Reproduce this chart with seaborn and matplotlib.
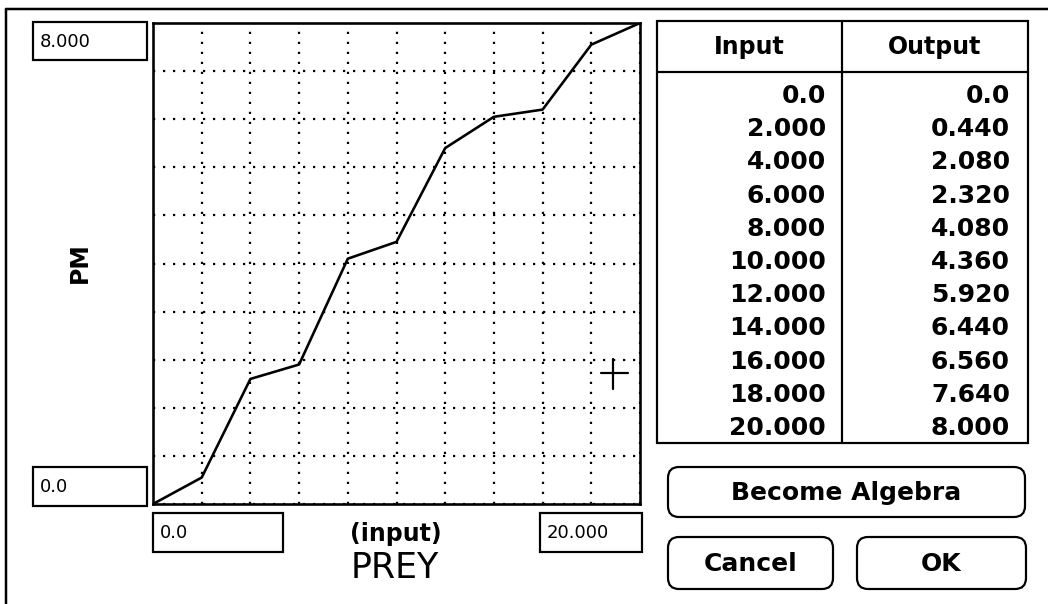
import matplotlib
matplotlib.use("Agg")
import matplotlib.pyplot as plt
import seaborn as sns
from matplotlib.patches import Rectangle, FancyBboxPatch

# graphical function PM = f(PREY)
inputs = [0, 2, 4, 6, 8, 10, 12, 14, 16, 18, 20]
outputs = [0.0, 0.44, 2.08, 2.32, 4.08, 4.36, 5.92, 6.44, 6.56, 7.64, 8.0]
x_name = "PREY"
y_name = "PM"
buttons = ["Become Algebra", "Cancel", "OK"]


def fmt(v):
    # Stella style: zero shows as 0.0, the rest with three decimals
    return "0.0" if v == 0 else f"{v:.3f}"


sns.set_style("white")
plt.rcParams["font.family"] = ["DejaVu Sans"]
plt.rcParams["text.color"] = "black"
plt.rcParams["lines.scale_dashes"] = False

W, H = 1048, 604
fig = plt.figure(figsize=(W / 100, H / 100), dpi=100)

# overlay in pixel units for the dialog parts
ui = fig.add_axes([0, 0, 1, 1], zorder=0)
ui.set_xlim(0, W)
ui.set_ylim(H, 0)
ui.axis("off")

px = 0.72  # points per pixel

# dialog frame
ui.plot([6, W], [9, 9], color="black", lw=2.5 * px)
ui.plot([6, 6], [9, H], color="black", lw=2.5 * px)


def box(x0, y0, x1, y1, text, size=13, weight="normal"):
    ui.add_patch(Rectangle((x0, y0), x1 - x0, y1 - y0, fill=False, ec="black", lw=2.2 * px))
    ui.text(x0 + 7, (y0 + y1) / 2 + 1, text, ha="left", va="center", fontsize=size, fontweight=weight)


# range boxes
box(33, 22, 147, 60, fmt(max(outputs)))
box(33, 467, 147, 506, fmt(min(outputs)))
box(153, 513, 283, 552, fmt(min(inputs)))
box(540, 513, 642, 552, fmt(max(inputs)))

ui.text(80, 263, y_name, rotation=90, ha="center", va="center", fontsize=17, fontweight="bold")
ui.text(396, 534, "(input)", ha="center", va="center", fontsize=17, fontweight="bold")
ui.text(395, 568, x_name, ha="center", va="center", fontsize=25)

# table
tx0, tx1, tdiv, ty0, thead, ty1 = 657, 1028, 842, 21, 72, 443
ui.add_patch(Rectangle((tx0, ty0), tx1 - tx0, ty1 - ty0, fill=False, ec="black", lw=2.2 * px))
ui.plot([tx0, tx1], [thead, thead], color="black", lw=2.2 * px)
ui.plot([tdiv, tdiv], [ty0, ty1], color="black", lw=2.2 * px)
ui.text((tx0 + tdiv) / 2, 47, "Input", ha="center", va="center", fontsize=17, fontweight="bold")
ui.text((tdiv + tx1) / 2, 47, "Output", ha="center", va="center", fontsize=17, fontweight="bold")
for i, (a, b) in enumerate(zip(inputs, outputs)):
    y = 96 + 33.2 * i
    ui.text(826, y, fmt(a), ha="right", va="center", fontsize=18, fontweight="bold")
    ui.text(1010, y, fmt(b), ha="right", va="center", fontsize=18, fontweight="bold")

# buttons
for (x0, y0, x1, y1), label in zip([(668, 467, 1025, 517), (668, 537, 833, 589), (857, 537, 1026, 589)], buttons):
    ui.add_patch(FancyBboxPatch((x0, y0), x1 - x0, y1 - y0, boxstyle="round,pad=0,rounding_size=11",
                                fill=False, ec="black", lw=2.2 * px))
    ui.text((x0 + x1) / 2, (y0 + y1) / 2 + 1, label, ha="center", va="center", fontsize=18, fontweight="bold")

# mouse cursor
ui.plot([601, 628], [373, 373], color="black", lw=2.2 * px)
ui.plot([613, 613], [359, 389], color="black", lw=2.2 * px)

# the graph itself
ax = fig.add_axes([153 / W, 1 - 504 / H, (640 - 153) / W, (504 - 23) / H], zorder=1)
ax.patch.set_alpha(0)
sns.lineplot(x=inputs, y=outputs, ax=ax, color="black", lw=2.6 * px)
ax.set_xlim(min(inputs), max(inputs))
ax.set_ylim(min(outputs), max(outputs))
ax.set_xticks(inputs)
ax.set_yticks([max(outputs) * k / 10 for k in range(11)])
ax.grid(True, color="black", linestyle=(0, (1.6, 5.6)), linewidth=1.6)
ax.tick_params(length=0, labelbottom=False, labelleft=False)
ax.set_xlabel("")
ax.set_ylabel("")
for s in ax.spines.values():
    s.set_color("black")
    s.set_linewidth(2.6 * px)

fig.savefig("out.png", dpi=100)
